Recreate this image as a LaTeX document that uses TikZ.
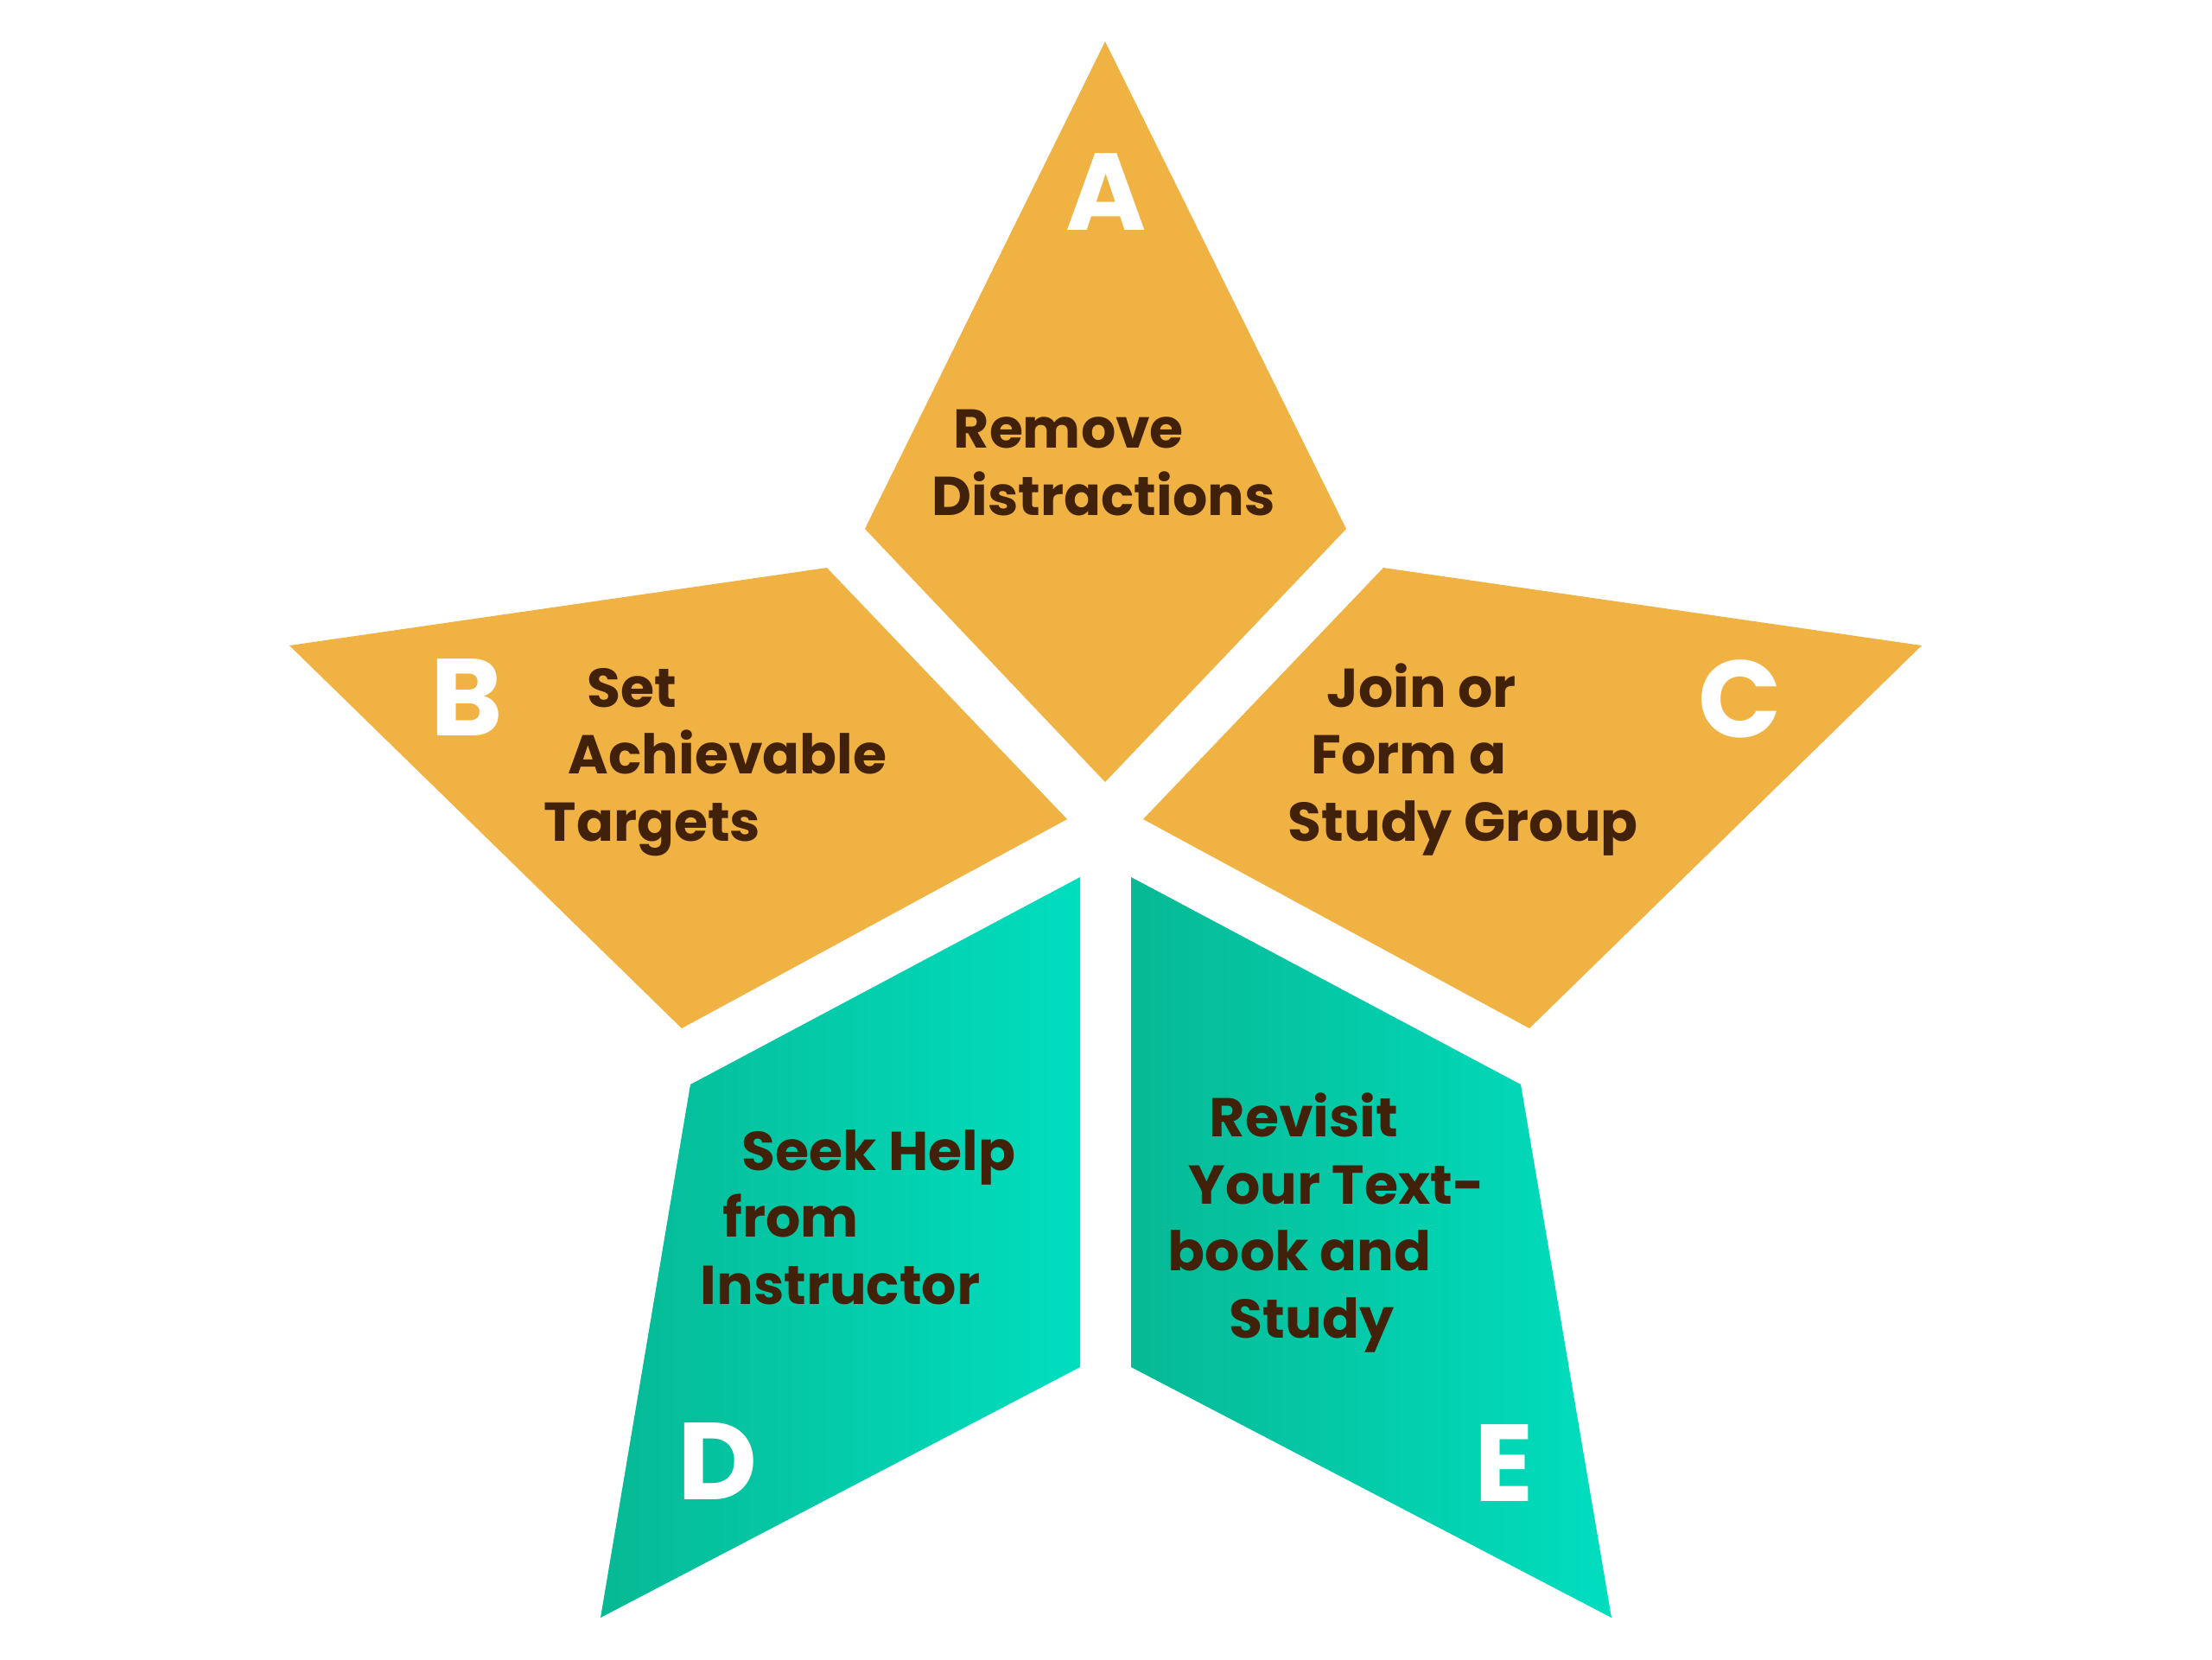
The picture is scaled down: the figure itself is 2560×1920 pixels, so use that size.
\documentclass[tikz,border=0pt]{standalone}
\usepackage{fontspec}
\setmainfont{Poppins}
\usetikzlibrary{calc}

\definecolor{starorange}{HTML}{F0B243}
\definecolor{tealdark}{HTML}{07B995}
\definecolor{teallight}{HTML}{00DEBF}
\definecolor{textbrown}{HTML}{42210B}

\tikzset{
	letter/.style={text=white, inner sep=0pt, anchor=base, font=\fontsize{36}{36}\selectfont\bfseries},
	tiptext/.style={text=textbrown, inner sep=0pt, align=left, anchor=base west, font=\fontsize{18}{22}\selectfont\bfseries},
	orangepart/.style={fill=starorange},
	tealpart/.style={left color=tealdark, right color=teallight}
}

\begin{document}
\begin{tikzpicture}[x=0.01cm,y=-0.01cm]
		\useasboundingbox (0,0) rectangle (2560,1920);
		
		% the five pieces of the star
		\fill[orangepart] (1279,48) -- (1558,612) -- (1279,905) -- (1001,612) -- cycle;
		\fill[orangepart] (335,747) -- (957,657) -- (1235,948) -- (789,1190) -- cycle;
		\fill[orangepart] (1601,657) -- (2224,747) -- (1770,1190) -- (1323,948) -- cycle;
		\shade[tealpart] (799,1255) -- (1250,1015) -- (1250,1582) -- (695,1872) -- cycle;
		\shade[tealpart] (1309,1015) -- (1760,1255) -- (1865,1872) -- (1309,1582) -- cycle;
		
		% letters
		\node (la) [letter] at (1280,266) {A};
		\node (lb) [letter] at (540,851) {B};
		\node (lc) [letter] at (2014,853) {C};
		\node (ld) [letter] at (831,1735) {D};
		\node (le) [letter] at (1741,1737) {E};
		
		% texts (placed at the baseline of the last line)
		\node (ta) [tiptext] at (1078,596) {\hspace*{0.25cm}Remove\\Distractions};
		\node (tb) [tiptext] at (629,973) {\hspace*{0.5cm}Set\\\hspace*{0.28cm}Achievable\\Targets};
		\node (tc) [tiptext] at (1490,973) {\hspace*{0.45cm}Join or\\\hspace*{0.27cm}Form a\\Study Group};
		\node (td) [tiptext] at (810,1509) {\hspace*{0.48cm}Seek Help\\\hspace*{0.26cm}from\\Instructor};
		\node (te) [tiptext] at (1351,1548) {\hspace*{0.48cm}Revisit\\\hspace*{0.24cm}Your Text-\\book and\\\hspace*{0.71cm}Study};
		
	\end{tikzpicture}
\end{document}
